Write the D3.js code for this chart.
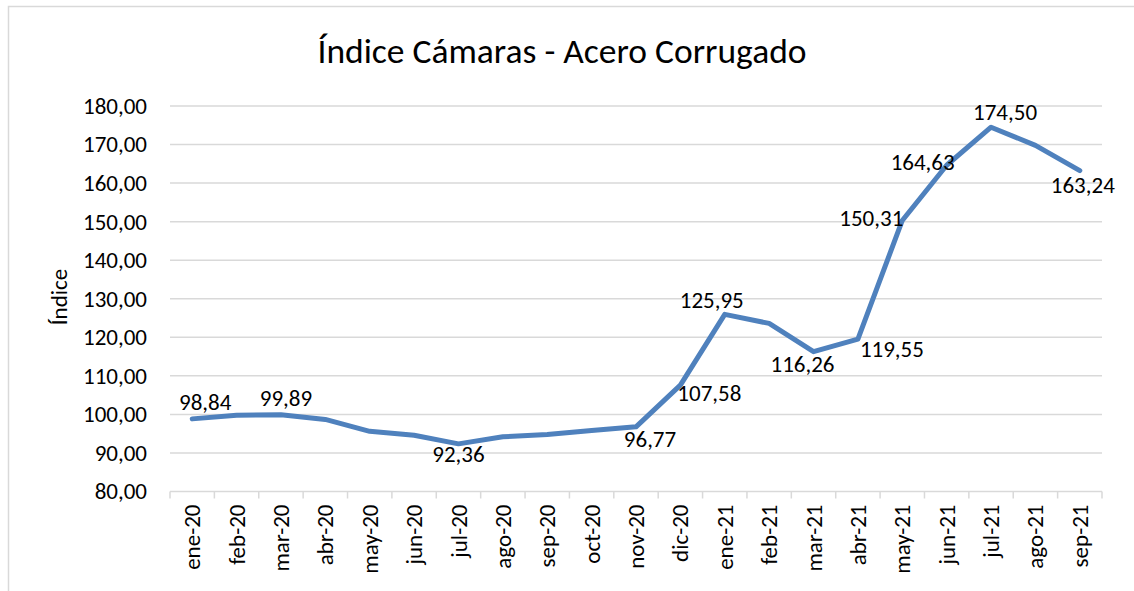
<!DOCTYPE html>
<html lang="es">
<head>
<meta charset="UTF-8">
<script src="https://cdn.jsdelivr.net/npm/d3@7"></script>
<title>Índice Cámaras - Acero Corrugado</title>
<style>
    body { margin: 0; background: #fff; }
    svg text { font-family: Calibri, Carlito, "Open Sans", sans-serif; fill: #000; }
    .grid line { stroke: #d9d9d9; stroke-width: 1.5; }
    .xaxis path, .xaxis line { stroke: #d9d9d9; stroke-width: 1.5; }
</style>
</head>
<body>
<svg id="chart" width="1134" height="591"></svg>
<script>
    // datos
    var months = ['ene-20', 'feb-20', 'mar-20', 'abr-20', 'may-20', 'jun-20', 'jul-20',
                  'ago-20', 'sep-20', 'oct-20', 'nov-20', 'dic-20', 'ene-21', 'feb-21',
                  'mar-21', 'abr-21', 'may-21', 'jun-21', 'jul-21', 'ago-21', 'sep-21'];
    var values = [98.84, 99.8, 99.89, 98.7, 95.6, 94.6, 92.36,
                  94.2, 94.8, 95.8, 96.77, 107.58, 125.95, 123.6,
                  116.26, 119.55, 150.31, 164.63, 174.50, 169.8, 163.24];
    var yTicks = [80, 90, 100, 110, 120, 130, 140, 150, 160, 170, 180];
    // indices con etiqueta de datos
    var labelled = [0, 2, 6, 10, 11, 12, 14, 15, 16, 17, 18, 20];

    // posicion de cada etiqueta respecto al punto: [dx, dy]
    var labelNudge = {
        0: [13, -9], 2: [5, -9], 6: [0, 18], 10: [14, 20], 11: [29, 16],
        12: [-13, -6], 14: [-11, 20], 15: [34, 18], 16: [-31, 6],
        17: [-24, 5], 18: [14, -7], 20: [3, 22]
    };

    var fs = '23px';
    var fmt = function (d) { return d3.format('.2f')(d).replace('.', ','); };

    var svg = d3.select('#chart');

    // marco del grafico
    svg.append('rect')
        .attr('x', 8.5).attr('y', 6.5)
        .attr('width', 1140).attr('height', 600)
        .attr('fill', 'none').attr('stroke', '#d9d9d9').attr('stroke-width', 1.5);

    var x = d3.scaleBand().domain(months).range([170, 1102]);
    var y = d3.scaleLinear().domain([80, 180]).range([491.5, 106]);

    // lineas de cuadricula
    svg.append('g').attr('class', 'grid')
        .selectAll('line')
        .data(yTicks.slice(1))
        .enter().append('line')
        .attr('x1', 170).attr('x2', 1102)
        .attr('y1', function (d) { return y(d); })
        .attr('y2', function (d) { return y(d); });

    // eje Y
    var yAxis = d3.axisLeft(y).tickValues(yTicks).tickFormat(fmt).tickSize(0).tickPadding(23);
    svg.append('g')
        .attr('transform', 'translate(170,0)')
        .call(yAxis)
        .call(function (g) { g.select('.domain').remove(); })
        .selectAll('text')
        .style('font-size', fs);

    // eje X
    var xAxis = d3.axisBottom(x).tickSize(0).tickPadding(0);
    var gx = svg.append('g')
        .attr('class', 'xaxis')
        .attr('transform', 'translate(0,' + y(80) + ')')
        .call(xAxis);
    gx.select('.domain').attr('d', 'M170,0H1102');
    gx.selectAll('.tick text')
        .attr('transform', 'rotate(-90)')
        .attr('x', -13).attr('y', 0).attr('dy', '0.35em')
        .style('text-anchor', 'end')
        .style('font-size', fs);
    // marcas entre categorias
    gx.selectAll('.sep')
        .data(months.concat(['_end']))
        .enter().append('line')
        .attr('class', 'sep')
        .attr('x1', function (d, i) { return i < months.length ? x(d) : x.range()[1]; })
        .attr('x2', function (d, i) { return i < months.length ? x(d) : x.range()[1]; })
        .attr('y1', 0).attr('y2', 7);

    // linea de la serie
    var line = d3.line()
        .x(function (d, i) { return x(months[i]) + x.bandwidth() / 2; })
        .y(function (d) { return y(d); });
    svg.append('path')
        .datum(values)
        .attr('d', line)
        .attr('fill', 'none')
        .attr('stroke', '#4f81bd')
        .attr('stroke-width', 5)
        .attr('stroke-linejoin', 'round')
        .attr('stroke-linecap', 'round');

    // etiquetas de datos
    svg.append('g')
        .selectAll('text')
        .data(labelled)
        .enter().append('text')
        .attr('x', function (i) { return x(months[i]) + x.bandwidth() / 2 + labelNudge[i][0]; })
        .attr('y', function (i) { return y(values[i]) + labelNudge[i][1]; })
        .attr('text-anchor', 'middle')
        .style('font-size', fs)
        .text(function (i) { return fmt(values[i]); });

    // titulo
    svg.append('text')
        .attr('x', 562).attr('y', 63)
        .attr('text-anchor', 'middle')
        .style('font-size', '35.5px')
        .text('Índice Cámaras - Acero Corrugado');

    // titulo del eje Y
    svg.append('text')
        .attr('transform', 'translate(67,297) rotate(-90)')
        .attr('text-anchor', 'middle')
        .style('font-size', fs)
        .text('Índice');
</script>
</body>
</html>
